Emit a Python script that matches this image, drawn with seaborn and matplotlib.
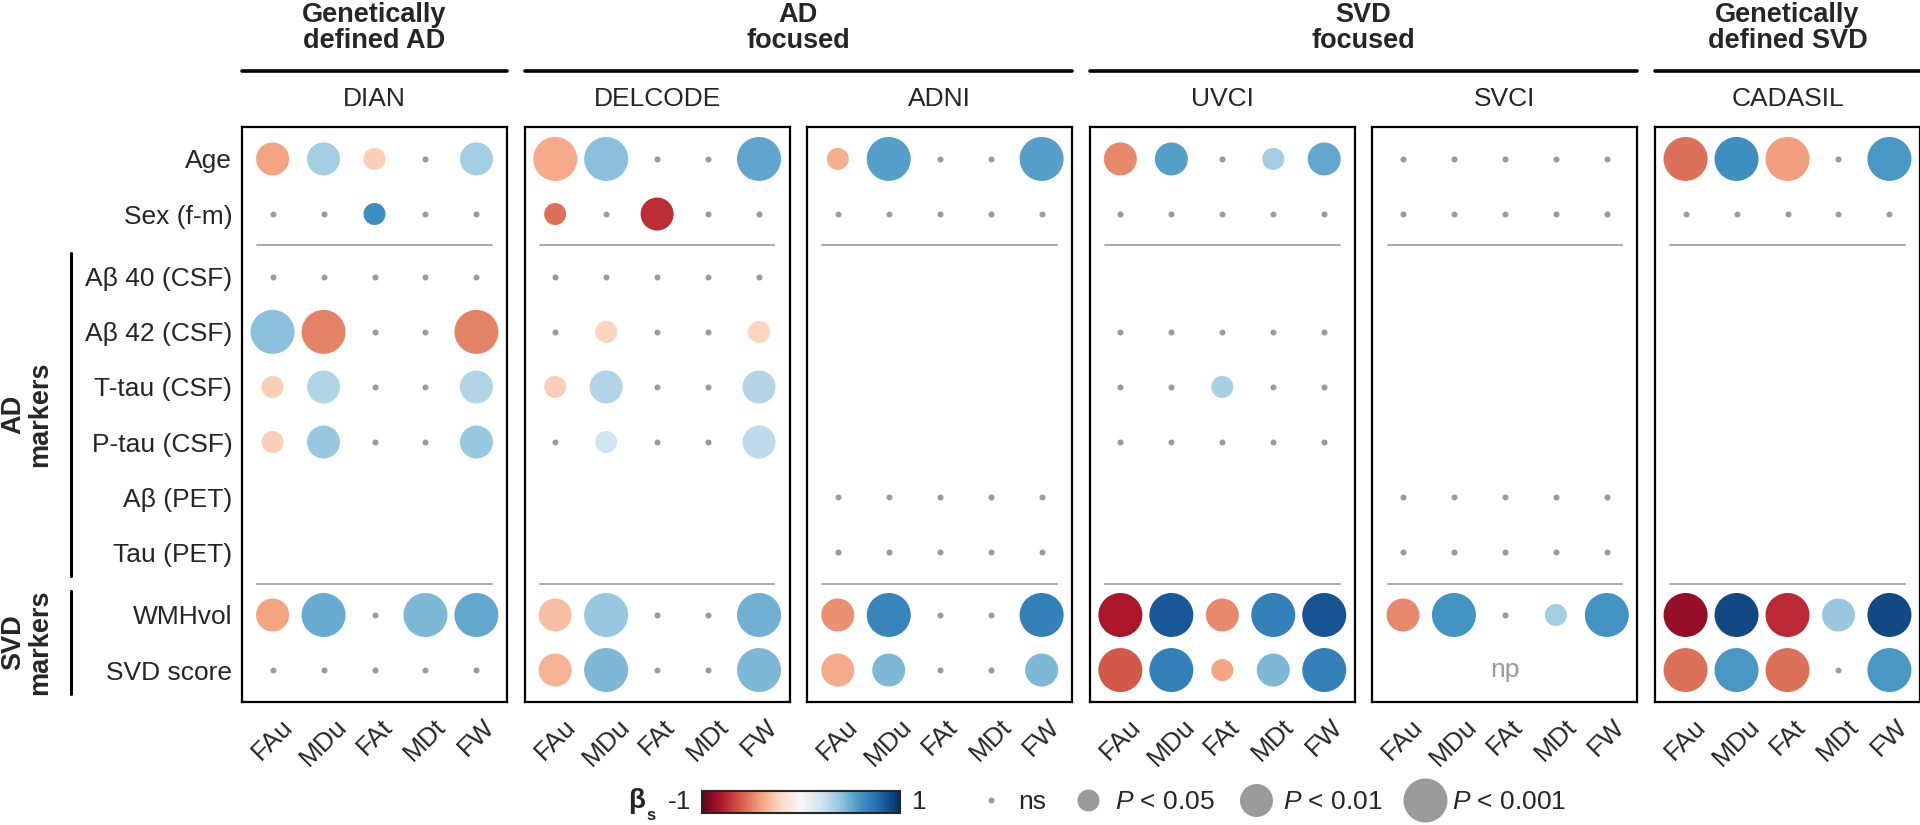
import matplotlib
matplotlib.use("Agg")
import numpy as np
import pandas as pd
import matplotlib.pyplot as plt
import matplotlib.transforms as mtransforms
import seaborn as sns
from matplotlib.lines import Line2D
from matplotlib.colors import Normalize
from matplotlib.cm import ScalarMappable

# -----------------------------
# Data
# -----------------------------
measures = ["FAu", "MDu", "FAt", "MDt", "FW"]
variables = ["Age", "Sex (f-m)", "Aβ 40 (CSF)", "Aβ 42 (CSF)", "T-tau (CSF)",
             "P-tau (CSF)", "Aβ (PET)", "Tau (PET)", "WMHvol", "SVD score"]
cohorts = ["DIAN", "DELCODE", "ADNI", "UVCI", "SVCI", "CADASIL"]
groups = ["Genetically\ndefined AD", "AD\nfocused", "SVD\nfocused", "Genetically\ndefined SVD"]
group_members = [["DIAN"], ["DELCODE", "ADNI"], ["UVCI", "SVCI"], ["CADASIL"]]
marker_groups = ["AD\nmarkers", "SVD\nmarkers"]
marker_rows = [["Aβ 40 (CSF)", "Tau (PET)"], ["WMHvol", "SVD score"]]
not_performed = [("SVCI", "SVD score")]

# significance: None = not available, 0 = ns, 1 = P<0.05, 2 = P<0.01, 3 = P<0.001
N = None
NA = [N, N, N, N, N]
NS = [0, 0, 0, 0, 0]
Z = [0, 0, 0, 0, 0]  # beta not shown (ns / not available)

dian_sig = [[2, 2, 1, 0, 2], [0, 0, 1, 0, 0], NS, [3, 3, 0, 0, 3], [1, 2, 0, 0, 2],
            [1, 2, 0, 0, 2], NA, NA, [2, 3, 0, 3, 3], NS]
dian_beta = [[-0.40, 0.35, -0.25, 0, 0.35], [0, 0, 0.62, 0, 0], Z,
             [0.42, -0.50, 0, 0, -0.50], [-0.25, 0.30, 0, 0, 0.30],
             [-0.25, 0.38, 0, 0, 0.38], Z, Z, [-0.40, 0.50, 0, 0.45, 0.52], Z]

delcode_sig = [[3, 3, 0, 0, 3], [1, 0, 2, 0, 0], NS, [0, 1, 0, 0, 1], [1, 2, 0, 0, 2],
               [0, 1, 0, 0, 2], NA, NA, [2, 3, 0, 0, 3], [2, 3, 0, 0, 3]]
delcode_beta = [[-0.38, 0.42, 0, 0, 0.53], [-0.55, 0, -0.74, 0, 0], Z,
                [0, -0.22, 0, 0, -0.22], [-0.25, 0.30, 0, 0, 0.30],
                [0, 0.20, 0, 0, 0.26], Z, Z, [-0.30, 0.38, 0, 0, 0.48],
                [-0.35, 0.45, 0, 0, 0.45]]

adni_sig = [[1, 3, 0, 0, 3], NS, NA, NA, NA, NA, NS, NS, [2, 3, 0, 0, 3], [2, 2, 0, 0, 2]]
adni_beta = [[-0.36, 0.55, 0, 0, 0.55], Z, Z, Z, Z, Z, Z, Z,
             [-0.46, 0.66, 0, 0, 0.68], [-0.38, 0.45, 0, 0, 0.45]]

uvci_sig = [[2, 2, 0, 1, 2], NS, NA, NS, [0, 0, 1, 0, 0], NS, NA, NA,
            [3, 3, 2, 3, 3], [3, 3, 1, 2, 3]]
uvci_beta = [[-0.48, 0.55, 0, 0.35, 0.52], Z, Z, Z, [0, 0, 0.33, 0, 0], Z, Z, Z,
             [-0.82, 0.85, -0.48, 0.68, 0.86], [-0.62, 0.68, -0.40, 0.45, 0.68]]

svci_sig = [NS, NS, NA, NA, NA, NA, NS, NS, [2, 3, 0, 1, 3], NA]
svci_beta = [Z, Z, Z, Z, Z, Z, Z, Z, [-0.48, 0.60, 0, 0.35, 0.60], Z]

cadasil_sig = [[3, 3, 3, 0, 3], NS, NA, NA, NA, NA, NA, NA, [3, 3, 3, 2, 3], [3, 3, 3, 0, 3]]
cadasil_beta = [[-0.55, 0.62, -0.42, 0, 0.58], Z, Z, Z, Z, Z, Z, Z,
                [-0.88, 0.90, -0.75, 0.38, 0.90], [-0.55, 0.58, -0.55, 0, 0.58]]

sig_tables = {"DIAN": dian_sig, "DELCODE": delcode_sig, "ADNI": adni_sig,
              "UVCI": uvci_sig, "SVCI": svci_sig, "CADASIL": cadasil_sig}
beta_tables = {"DIAN": dian_beta, "DELCODE": delcode_beta, "ADNI": adni_beta,
               "UVCI": uvci_beta, "SVCI": svci_beta, "CADASIL": cadasil_beta}
sig_labels = {1: "P < 0.05", 2: "P < 0.01", 3: "P < 0.001"}

# -----------------------------
# Style / layout
# -----------------------------
sns.set_theme(style="white")
plt.rcParams["font.family"] = ["Liberation Sans", "DejaVu Sans"]
plt.rcParams["mathtext.fontset"] = "custom"
plt.rcParams["mathtext.it"] = "Liberation Sans:italic"
plt.rcParams["mathtext.rm"] = "Liberation Sans"

W, H = 1920, 825
def fx(px):
    return px / W
def fy(py):
    return 1 - py / H

PT = 0.72  # points per pixel at dpi 100
size_px = {"P < 0.05": 22, "P < 0.01": 33, "P < 0.001": 44}
sizes = {k: (v * PT) ** 2 for k, v in size_px.items()}
ns_px = 6
grey = "#9a9a9a"
cmap = sns.color_palette("RdBu", as_cmap=True)

# row positions with a small gap between blocks
row_gap = 0.14
breaks = [2, 8]
ypos = [i + row_gap * sum(i >= b for b in breaks) for i in range(len(variables))]
ymap = dict(zip(variables, ypos))

rows = []
for name in cohorts:
    for r, var in enumerate(variables):
        for c, m in enumerate(measures):
            s = sig_tables[name][r][c]
            if s is None:
                continue
            rows.append(dict(cohort=name, variable=var, measure=m, x=c,
                             y=ymap[var], beta=beta_tables[name][r][c], sig=s))
df = pd.DataFrame(rows)

panel_x0, panel_step, panel_w = 242, 282.6, 265
box_top, box_bot = 127, 702
ylim = (ypos[-1] + 0.58, -0.58)
seps = [(ypos[b - 1] + ypos[b]) / 2 for b in breaks]

fig = plt.figure(figsize=(19.2, 8.25), dpi=100)
panel_edges = {}
axes = []
for i, name in enumerate(cohorts):
    left = panel_x0 + i * panel_step
    panel_edges[name] = (left, left + panel_w)
    ax = fig.add_axes([fx(left), fy(box_bot), panel_w / W, (box_bot - box_top) / H])
    axes.append(ax)
    d = df[df.cohort == name]
    ns = d[d.sig == 0]
    sg = d[d.sig > 0].assign(level=lambda t: t.sig.map(sig_labels))

    for yb in seps:
        ax.plot([-0.3, 4.3], [yb, yb], color="#a8a8a8", lw=1.4, zorder=1)
    if len(ns):
        sns.scatterplot(data=ns, x="x", y="y", color=grey, s=(ns_px * PT) ** 2,
                        linewidth=0, ax=ax, zorder=2)
    if len(sg):
        sns.scatterplot(data=sg, x="x", y="y", hue="beta", palette=cmap,
                        hue_norm=(-1, 1), size="level", sizes=sizes,
                        linewidth=0, legend=False, ax=ax, zorder=3)
    for coh, var in not_performed:
        if coh == name:
            ax.text(2, ymap[var], "np", color=grey, fontsize=19,
                    ha="center", va="center")

    ax.set_xlim(-0.6, 4.6)
    ax.set_ylim(*ylim)
    ax.set_xticks(range(len(measures)))
    ax.set_xticklabels(measures, rotation=45, ha="center", va="top", fontsize=19)
    ax.set_yticks(ypos)
    if i == 0:
        ax.set_yticklabels(variables, fontsize=19)
    else:
        ax.set_yticklabels([])
    ax.tick_params(length=0, axis="x", pad=9)
    ax.tick_params(length=0, axis="y", pad=7)
    ax.set_xlabel("")
    ax.set_ylabel("")
    for sp in ax.spines.values():
        sp.set_visible(True)
        sp.set_color("black")
        sp.set_linewidth(1.6)
    ax.text(0.5, 1 + 28 / (box_bot - box_top), name, transform=ax.transAxes,
            ha="center", va="center", fontsize=19)

# group headers
for label, members in zip(groups, group_members):
    l = panel_edges[members[0]][0]
    r = panel_edges[members[-1]][1]
    fig.add_artist(Line2D([fx(l), fx(r)], [fy(71), fy(71)], color="black", lw=2.6))
    fig.text(fx((l + r) / 2), fy(28), label, ha="center", va="center",
             fontsize=19.5, fontweight="bold", linespacing=1.05)

# left marker brackets
ax0 = axes[0]
trans = mtransforms.blended_transform_factory(ax0.transAxes, ax0.transData)
x_line = (71 - panel_x0) / panel_w
x_text = (27 - panel_x0) / panel_w
for label, (v0, v1) in zip(marker_groups, marker_rows):
    y0, y1 = ymap[v0] - 0.44, ymap[v1] + 0.44
    ax0.add_line(Line2D([x_line, x_line], [y0, y1], transform=trans,
                        color="black", lw=2.2, clip_on=False))
    ax0.text(x_text, (y0 + y1) / 2, label, transform=trans, rotation=90,
             ha="center", va="center", fontsize=19.5, fontweight="bold",
             linespacing=1.05)

# colour bar legend
cax = fig.add_axes([fx(702), fy(813), 198 / W, 22 / H])
cb = fig.colorbar(ScalarMappable(Normalize(-1, 1), cmap=cmap), cax=cax,
                  orientation="horizontal")
cb.set_ticks([])
cb.outline.set_linewidth(1.5)
fig.text(fx(628), fy(801), "β", fontsize=20, fontweight="bold", ha="left", va="center")
fig.text(fx(646), fy(815), "s", fontsize=12, fontweight="bold", ha="left", va="center")
fig.text(fx(691), fy(802), "-1", fontsize=19, ha="right", va="center")
fig.text(fx(912), fy(802), "1", fontsize=19, ha="left", va="center")

# size legend
handles = [Line2D([], [], ls="", marker="o", markersize=px * PT,
                  markerfacecolor=grey, markeredgewidth=0)
           for px in [ns_px, 22, 33, 44]]
labels = ["ns", "$P$ < 0.05", "$P$ < 0.01", "$P$ < 0.001"]
fig.legend(handles, labels, loc="center right", bbox_to_anchor=(fx(1566), fy(802)),
           ncol=4, frameon=False, fontsize=19, handlelength=1.35,
           handletextpad=0.35, columnspacing=0.9, borderpad=0, borderaxespad=0)

fig.savefig("out.png", dpi=100)
plt.close(fig)
